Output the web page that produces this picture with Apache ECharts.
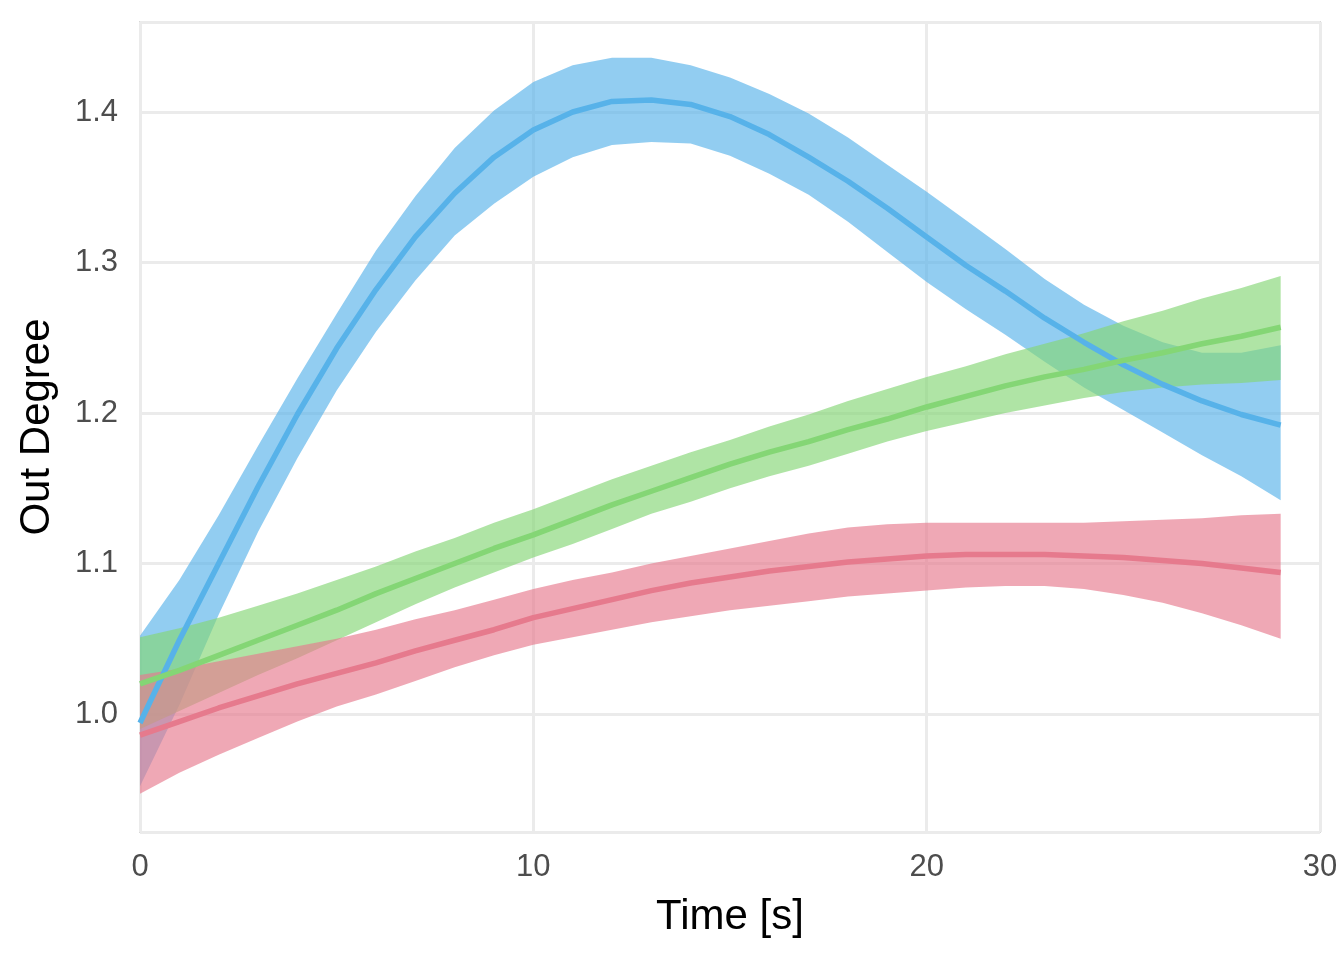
<!DOCTYPE html>
<html>
<head>
<meta charset="utf-8">
<script src="https://cdn.jsdelivr.net/npm/echarts@6/dist/echarts.min.js"></script>
<style>html,body{margin:0;padding:0;background:#fff;}#chart{width:1344px;height:960px;}</style>
</head>
<body>
<div id="chart"></div>
<script>
const times = [0,1,2,3,4,5,6,7,8,9,10,11,12,13,14,15,16,17,18,19,20,21,22,23,24,25,26,27,28,29];

const blueMid  = [0.994,1.049,1.100,1.151,1.199,1.243,1.282,1.317,1.346,1.370,1.388,1.400,1.407,1.408,1.405,1.397,1.385,1.370,1.354,1.336,1.317,1.298,1.281,1.263,1.247,1.232,1.219,1.208,1.199,1.192];
const blueLow  = [0.952,1.006,1.066,1.121,1.170,1.215,1.254,1.288,1.318,1.339,1.357,1.370,1.378,1.380,1.379,1.371,1.359,1.345,1.327,1.307,1.287,1.269,1.252,1.234,1.217,1.202,1.187,1.172,1.158,1.142];
const blueHigh = [1.052,1.089,1.132,1.178,1.223,1.266,1.308,1.344,1.376,1.401,1.420,1.431,1.436,1.436,1.431,1.423,1.412,1.399,1.383,1.365,1.347,1.328,1.309,1.289,1.272,1.258,1.247,1.240,1.240,1.245];

const greenMid  = [1.020,1.029,1.039,1.049,1.059,1.069,1.080,1.090,1.100,1.110,1.119,1.129,1.139,1.148,1.157,1.166,1.174,1.181,1.189,1.196,1.204,1.211,1.218,1.224,1.229,1.235,1.240,1.246,1.251,1.257];
const greenLow  = [0.990,1.002,1.014,1.026,1.037,1.049,1.061,1.073,1.084,1.094,1.104,1.113,1.123,1.133,1.141,1.150,1.158,1.165,1.173,1.181,1.188,1.194,1.200,1.205,1.210,1.214,1.217,1.219,1.220,1.222];
const greenHigh = [1.051,1.057,1.064,1.072,1.080,1.089,1.098,1.108,1.117,1.127,1.136,1.146,1.156,1.165,1.174,1.182,1.191,1.199,1.208,1.216,1.224,1.231,1.239,1.246,1.253,1.261,1.268,1.276,1.283,1.291];

const redMid  = [0.986,0.995,1.004,1.012,1.020,1.027,1.034,1.042,1.049,1.056,1.064,1.070,1.076,1.082,1.087,1.091,1.095,1.098,1.101,1.103,1.105,1.106,1.106,1.106,1.105,1.104,1.102,1.100,1.097,1.094];
const redLow  = [0.947,0.961,0.973,0.984,0.995,1.005,1.013,1.022,1.031,1.039,1.046,1.051,1.056,1.061,1.065,1.069,1.072,1.075,1.078,1.080,1.082,1.084,1.085,1.085,1.083,1.079,1.074,1.067,1.059,1.050];
const redHigh = [1.026,1.030,1.035,1.040,1.045,1.050,1.056,1.063,1.069,1.076,1.083,1.089,1.094,1.100,1.105,1.110,1.115,1.120,1.124,1.126,1.127,1.127,1.127,1.127,1.127,1.128,1.129,1.130,1.132,1.133];

const xTicks = [0, 10, 20, 30];
const yTicks = [1.0, 1.1, 1.2, 1.3, 1.4];

const groups = [
  {name: 'blue',  color: '#57B2E9', mid: blueMid,  low: blueLow,  high: blueHigh},
  {name: 'green', color: '#84D675', mid: greenMid, low: greenLow, high: greenHigh},
  {name: 'red',   color: '#E67A8D', mid: redMid,   low: redLow,   high: redHigh}
];

const FONT = '"Liberation Sans", Arial, Helvetica, sans-serif';
const series = [];
groups.forEach(g => {
  series.push({
    type: 'custom', silent: true, clip: true,
    data: [[times[0], g.mid[0]]],
    renderItem: (params, api) => {
      const pts = [];
      for (let i = 0; i < times.length; i++) pts.push(api.coord([times[i], g.high[i]]));
      for (let i = times.length - 1; i >= 0; i--) pts.push(api.coord([times[i], g.low[i]]));
      return {type: 'polygon', shape: {points: pts}, style: {fill: g.color, opacity: 0.65}};
    }
  });
  series.push({
    type: 'line', symbol: 'none', silent: true,
    data: times.map((t, i) => [t, g.mid[i]]),
    lineStyle: {color: g.color, width: 5.5, cap: 'butt'}
  });
});

const chart = echarts.init(document.getElementById('chart'), null, {renderer: 'canvas'});
chart.setOption({
  animation: false,
  backgroundColor: '#ffffff',
  grid: {left: 140, right: 24, top: 22, bottom: 128, show: true, borderColor: '#D9D9D9', borderWidth: 2, backgroundColor: 'transparent'},
  xAxis: {
    type: 'value', min: 0, max: 30, interval: 10,
    name: 'Time [s]', nameLocation: 'middle', nameGap: 64,
    nameTextStyle: {fontFamily: FONT, fontSize: 42, color: '#000'},
    axisLine: {show: false}, axisTick: {show: false},
    axisLabel: {fontFamily: FONT, fontSize: 31, color: '#4D4D4D', margin: 20,
      formatter: v => xTicks.includes(v) ? String(v) : ''},
    splitLine: {show: true, lineStyle: {color: '#EBEBEB', width: 3}}
  },
  yAxis: {
    type: 'value', min: 0.9216, max: 1.4598, splitNumber: 5,
    name: 'Out Degree', nameLocation: 'middle', nameGap: 82, nameRotate: 90,
    nameTextStyle: {fontFamily: FONT, fontSize: 42, color: '#000'},
    axisLine: {show: false}, axisTick: {show: false},
    axisLabel: {fontFamily: FONT, fontSize: 31, color: '#4D4D4D', margin: 22,
      formatter: v => {
        const m = yTicks.find(t => Math.abs(t - v) < 1e-6);
        return m === undefined ? '' : m.toFixed(1);
      }},
    splitLine: {show: true, lineStyle: {color: '#EBEBEB', width: 3}}
  },
  series: series
});
</script>
</body>
</html>
